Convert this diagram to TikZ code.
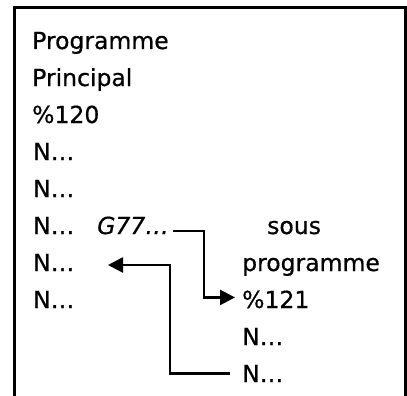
\documentclass[tikz,border=0pt]{standalone}
\usepackage{fontspec}
\setmainfont{DejaVu Sans}[FakeBold=0.6]
\usetikzlibrary{arrows.meta,calc}
\begin{document}
\begin{tikzpicture}[x=1pt,y=-1pt,
  txt/.style={anchor=base west,inner sep=0pt,font=\fontsize{23.5}{28}\selectfont},
  conn/.style={line width=2.6pt},
  arr/.style={conn,-{Triangle[length=15pt,width=15pt]}},
  frame/.style={line width=2.2pt}]
\useasboundingbox (0,0) rectangle (407,396);
\draw[frame] (14.5,396) -- (14.5,7.5) -- (405.5,7.5) -- (405.5,396);
\node[txt] (l1) at (32,49) {Programme};
\node[txt] (l2) at (32,86) {Principal};
\node[txt] (l3) at (32,123) {\%120};
\node[txt] (l4) at (33,160) {N…};
\node[txt] (l5) at (33,197) {N…};
\node[txt] (l6) at (33,234) {N…};
\node[txt] (g77) at (97,234) {\itshape G77…};
\node[txt] (l7) at (33,271) {N…};
\node[txt] (l8) at (33,308) {N…};
\node[txt] (sous) at (267,234) {sous};
\node[txt] (prog) at (242,271) {programme};
\node[txt] (s121) at (242,308) {\%121};
\node[txt] (r9) at (242,345) {N…};
\node[txt] (r10) at (242,382) {N…};
\coordinate (ret) at (108,265);
\draw[arr] ([xshift=4pt,yshift=3pt]g77.base east) -- ++(31,0) |- ([xshift=-7pt,yshift=2pt]s121.west);
\draw[arr] ([xshift=-12pt]r10.west) -- ++(-60,0) |- (ret);
\end{tikzpicture}
\end{document}
